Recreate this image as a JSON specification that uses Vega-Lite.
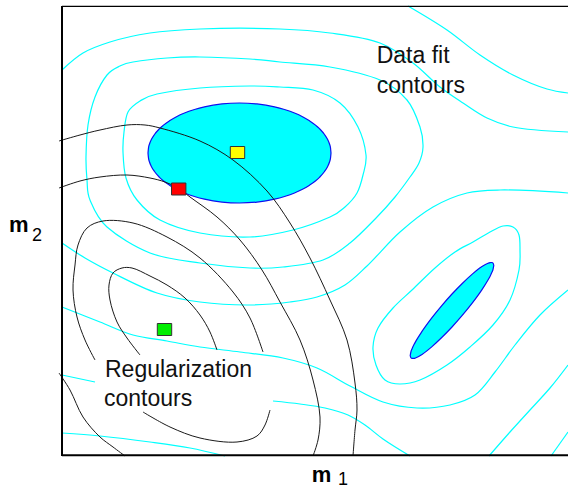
{
  "$schema": "https://vega.github.io/schema/vega-lite/v6.json",
  "width": 506,
  "height": 450,
  "autosize": "none",
  "padding": {"left": 62, "top": 6, "right": 0, "bottom": 35},
  "config": {"view": {"stroke": null}},
  "datasets": {
    "ell1": [
      {"x": 86, "y": 303, "y2": 303}, {"x": 86.5, "y": 308.2, "y2": 297.8}, {"x": 87.5, "y": 312, "y2": 294},
      {"x": 89.5, "y": 316.7, "y2": 289.3}, {"x": 92.5, "y": 321.5, "y2": 284.5}, {"x": 97.5, "y": 327.3, "y2": 278.7},
      {"x": 107.5, "y": 335.2, "y2": 270.8}, {"x": 114.5, "y": 339.3, "y2": 266.7}, {"x": 122.5, "y": 343, "y2": 263},
      {"x": 132.5, "y": 346.5, "y2": 259.5}, {"x": 142.5, "y": 349.2, "y2": 256.8}, {"x": 160, "y": 352.1, "y2": 253.9},
      {"x": 177.5, "y": 353, "y2": 253}, {"x": 195, "y": 352.1, "y2": 253.9}, {"x": 212.5, "y": 349.2, "y2": 256.8},
      {"x": 222.5, "y": 346.5, "y2": 259.5}, {"x": 232.5, "y": 343, "y2": 263}, {"x": 240.5, "y": 339.3, "y2": 266.7},
      {"x": 247.5, "y": 335.2, "y2": 270.8}, {"x": 257.5, "y": 327.3, "y2": 278.7}, {"x": 262.5, "y": 321.5, "y2": 284.5},
      {"x": 265.5, "y": 316.7, "y2": 289.3}, {"x": 267.5, "y": 312, "y2": 294}, {"x": 268.5, "y": 308.2, "y2": 297.8},
      {"x": 269, "y": 303, "y2": 303}
    ],
    "ell2": [
      {"x": 348.2, "y": 100.4, "y2": 100.4}, {"x": 349, "y": 98.1, "y2": 104.5}, {"x": 350, "y": 97.6, "y2": 107.1},
      {"x": 352, "y": 97.6, "y2": 111.4}, {"x": 354, "y": 98.3, "y2": 115.1}, {"x": 360, "y": 101.6, "y2": 124.6},
      {"x": 370, "y": 109.4, "y2": 138.4}, {"x": 380, "y": 118.7, "y2": 150.7}, {"x": 390, "y": 129, "y2": 162},
      {"x": 400, "y": 140.3, "y2": 172.3}, {"x": 410, "y": 152.6, "y2": 181.6}, {"x": 420, "y": 166.4, "y2": 189.4},
      {"x": 426, "y": 176, "y2": 192.7}, {"x": 428, "y": 179.6, "y2": 193.4}, {"x": 430, "y": 183.9, "y2": 193.5},
      {"x": 431, "y": 186.5, "y2": 192.9}, {"x": 431.8, "y": 190.6, "y2": 190.6}
    ],
    "cyanOpen": [
      {"id": "c3", "o": 0, "x": 0, "y": 386}, {"id": "c3", "o": 1, "x": 21, "y": 403}, {"id": "c3", "o": 2, "x": 48, "y": 414},
      {"id": "c3", "o": 3, "x": 88, "y": 423}, {"id": "c3", "o": 4, "x": 138, "y": 427}, {"id": "c3", "o": 5, "x": 218, "y": 427},
      {"id": "c3", "o": 6, "x": 268, "y": 423}, {"id": "c3", "o": 7, "x": 318, "y": 413}, {"id": "c3", "o": 8, "x": 351, "y": 393},
      {"id": "c3", "o": 9, "x": 378, "y": 369}, {"id": "c3", "o": 10, "x": 401, "y": 353}, {"id": "c3", "o": 11, "x": 425, "y": 338},
      {"id": "c3", "o": 12, "x": 451, "y": 329}, {"id": "c3", "o": 13, "x": 506, "y": 324},
      {"id": "c4", "o": 0, "x": 346, "y": 450}, {"id": "c4", "o": 1, "x": 385, "y": 426}, {"id": "c4", "o": 2, "x": 418, "y": 401},
      {"id": "c4", "o": 3, "x": 451, "y": 381}, {"id": "c4", "o": 4, "x": 485, "y": 367}, {"id": "c4", "o": 5, "x": 506, "y": 363},
      {"id": "c5", "o": 0, "x": 0, "y": 213}, {"id": "c5", "o": 1, "x": 23, "y": 198}, {"id": "c5", "o": 2, "x": 51, "y": 183},
      {"id": "c5", "o": 3, "x": 95, "y": 163}, {"id": "c5", "o": 4, "x": 138, "y": 154}, {"id": "c5", "o": 5, "x": 188, "y": 151},
      {"id": "c5", "o": 6, "x": 228, "y": 154}, {"id": "c5", "o": 7, "x": 255, "y": 159}, {"id": "c5", "o": 8, "x": 283, "y": 171},
      {"id": "c5", "o": 9, "x": 305, "y": 190}, {"id": "c5", "o": 10, "x": 338, "y": 224}, {"id": "c5", "o": 11, "x": 371, "y": 249},
      {"id": "c5", "o": 12, "x": 405, "y": 263}, {"id": "c5", "o": 13, "x": 438, "y": 266}, {"id": "c5", "o": 14, "x": 506, "y": 263},
      {"id": "c6", "o": 0, "x": 0, "y": 149}, {"id": "c6", "o": 1, "x": 38, "y": 134}, {"id": "c6", "o": 2, "x": 71, "y": 121},
      {"id": "c6", "o": 3, "x": 105, "y": 115}, {"id": "c6", "o": 4, "x": 138, "y": 109}, {"id": "c6", "o": 5, "x": 178, "y": 104},
      {"id": "c6", "o": 6, "x": 221, "y": 98}, {"id": "c6", "o": 7, "x": 255, "y": 88}, {"id": "c6", "o": 8, "x": 288, "y": 70},
      {"id": "c6", "o": 9, "x": 321, "y": 54}, {"id": "c6", "o": 10, "x": 355, "y": 48}, {"id": "c6", "o": 11, "x": 388, "y": 51},
      {"id": "c6", "o": 12, "x": 413, "y": 61}, {"id": "c6", "o": 13, "x": 433, "y": 84}, {"id": "c6", "o": 14, "x": 453, "y": 111},
      {"id": "c6", "o": 15, "x": 478, "y": 141}, {"id": "c6", "o": 16, "x": 506, "y": 166},
      {"id": "c8", "o": 0, "x": 427, "y": 0}, {"id": "c8", "o": 1, "x": 448, "y": 24}, {"id": "c8", "o": 2, "x": 468, "y": 46},
      {"id": "c8", "o": 3, "x": 488, "y": 68}, {"id": "c8", "o": 4, "x": 506, "y": 91},
      {"id": "c9", "o": 0, "x": 489, "y": 0}, {"id": "c9", "o": 1, "x": 506, "y": 24},
      {"id": "c10a", "o": 0, "x": 0, "y": 81}, {"id": "c10a", "o": 1, "x": 33, "y": 74},
      {"id": "c10b", "o": 0, "x": 211, "y": 55}, {"id": "c10b", "o": 1, "x": 238, "y": 52}, {"id": "c10b", "o": 2, "x": 263, "y": 48},
      {"id": "c10b", "o": 3, "x": 286, "y": 41}, {"id": "c10b", "o": 4, "x": 303, "y": 31}, {"id": "c10b", "o": 5, "x": 321, "y": 17},
      {"id": "c10b", "o": 6, "x": 348, "y": 0},
      {"id": "c11", "o": 0, "x": 0, "y": 23}, {"id": "c11", "o": 1, "x": 38, "y": 20}, {"id": "c11", "o": 2, "x": 88, "y": 14},
      {"id": "c11", "o": 3, "x": 128, "y": 8}, {"id": "c11", "o": 4, "x": 163, "y": 0}
    ],
    "cyanClosed": [
      {"id": "c1", "o": 0, "x": 61, "y": 304}, {"id": "c1", "o": 1, "x": 62, "y": 324}, {"id": "c1", "o": 2, "x": 66, "y": 344},
      {"id": "c1", "o": 3, "x": 78, "y": 355}, {"id": "c1", "o": 4, "x": 95, "y": 362}, {"id": "c1", "o": 5, "x": 138, "y": 368},
      {"id": "c1", "o": 6, "x": 188, "y": 370}, {"id": "c1", "o": 7, "x": 218, "y": 369}, {"id": "c1", "o": 8, "x": 251, "y": 366},
      {"id": "c1", "o": 9, "x": 278, "y": 353}, {"id": "c1", "o": 10, "x": 296, "y": 329}, {"id": "c1", "o": 11, "x": 304, "y": 301},
      {"id": "c1", "o": 12, "x": 301, "y": 281}, {"id": "c1", "o": 13, "x": 295, "y": 263}, {"id": "c1", "o": 14, "x": 283, "y": 249},
      {"id": "c1", "o": 15, "x": 268, "y": 239}, {"id": "c1", "o": 16, "x": 231, "y": 226}, {"id": "c1", "o": 17, "x": 188, "y": 219},
      {"id": "c1", "o": 18, "x": 138, "y": 223}, {"id": "c1", "o": 19, "x": 98, "y": 236}, {"id": "c1", "o": 20, "x": 75, "y": 256},
      {"id": "c1", "o": 21, "x": 64, "y": 278},
      {"id": "c2", "o": 0, "x": 24, "y": 299}, {"id": "c2", "o": 1, "x": 26, "y": 331}, {"id": "c2", "o": 2, "x": 33, "y": 359},
      {"id": "c2", "o": 3, "x": 45, "y": 381}, {"id": "c2", "o": 4, "x": 58, "y": 390}, {"id": "c2", "o": 5, "x": 71, "y": 394},
      {"id": "c2", "o": 6, "x": 105, "y": 398}, {"id": "c2", "o": 7, "x": 138, "y": 399}, {"id": "c2", "o": 8, "x": 188, "y": 397},
      {"id": "c2", "o": 9, "x": 218, "y": 394}, {"id": "c2", "o": 10, "x": 268, "y": 389}, {"id": "c2", "o": 11, "x": 318, "y": 376},
      {"id": "c2", "o": 12, "x": 345, "y": 356}, {"id": "c2", "o": 13, "x": 358, "y": 329}, {"id": "c2", "o": 14, "x": 361, "y": 309},
      {"id": "c2", "o": 15, "x": 357, "y": 293}, {"id": "c2", "o": 16, "x": 348, "y": 279}, {"id": "c2", "o": 17, "x": 333, "y": 259},
      {"id": "c2", "o": 18, "x": 315, "y": 239}, {"id": "c2", "o": 19, "x": 288, "y": 213}, {"id": "c2", "o": 20, "x": 261, "y": 196},
      {"id": "c2", "o": 21, "x": 221, "y": 189}, {"id": "c2", "o": 22, "x": 188, "y": 188}, {"id": "c2", "o": 23, "x": 138, "y": 193},
      {"id": "c2", "o": 24, "x": 88, "y": 203}, {"id": "c2", "o": 25, "x": 45, "y": 229}, {"id": "c2", "o": 26, "x": 28, "y": 256},
      {"id": "c2", "o": 27, "x": 25, "y": 276},
      {"id": "c7", "o": 0, "x": 311, "y": 109}, {"id": "c7", "o": 1, "x": 316, "y": 128}, {"id": "c7", "o": 2, "x": 331, "y": 148},
      {"id": "c7", "o": 3, "x": 350, "y": 166}, {"id": "c7", "o": 4, "x": 373, "y": 188}, {"id": "c7", "o": 5, "x": 393, "y": 204},
      {"id": "c7", "o": 6, "x": 411, "y": 214}, {"id": "c7", "o": 7, "x": 428, "y": 224}, {"id": "c7", "o": 8, "x": 441, "y": 230},
      {"id": "c7", "o": 9, "x": 451, "y": 229}, {"id": "c7", "o": 10, "x": 457, "y": 221}, {"id": "c7", "o": 11, "x": 458, "y": 206},
      {"id": "c7", "o": 12, "x": 457, "y": 186}, {"id": "c7", "o": 13, "x": 448, "y": 156}, {"id": "c7", "o": 14, "x": 431, "y": 131},
      {"id": "c7", "o": 15, "x": 408, "y": 109}, {"id": "c7", "o": 16, "x": 385, "y": 91}, {"id": "c7", "o": 17, "x": 358, "y": 76},
      {"id": "c7", "o": 18, "x": 338, "y": 72}, {"id": "c7", "o": 19, "x": 323, "y": 76}, {"id": "c7", "o": 20, "x": 314, "y": 91}
    ],
    "black": [
      {"id": "k1", "o": 0, "x": 78, "y": 101}, {"id": "k1", "o": 1, "x": 65, "y": 118}, {"id": "k1", "o": 2, "x": 55, "y": 134},
      {"id": "k1", "o": 3, "x": 48, "y": 156}, {"id": "k1", "o": 4, "x": 47, "y": 171}, {"id": "k1", "o": 5, "x": 51, "y": 183},
      {"id": "k1", "o": 6, "x": 60, "y": 188}, {"id": "k1", "o": 7, "x": 70, "y": 188}, {"id": "k1", "o": 8, "x": 88, "y": 180},
      {"id": "k1", "o": 9, "x": 105, "y": 171}, {"id": "k1", "o": 10, "x": 123, "y": 158}, {"id": "k1", "o": 11, "x": 138, "y": 141},
      {"id": "k1", "o": 12, "x": 148, "y": 124}, {"id": "k1", "o": 13, "x": 155, "y": 106},
      {"id": "k2a", "o": 0, "x": 33, "y": 96}, {"id": "k2a", "o": 1, "x": 23, "y": 116}, {"id": "k2a", "o": 2, "x": 15, "y": 139},
      {"id": "k2a", "o": 3, "x": 11, "y": 166}, {"id": "k2a", "o": 4, "x": 13, "y": 191}, {"id": "k2a", "o": 5, "x": 16, "y": 211},
      {"id": "k2a", "o": 6, "x": 25, "y": 228}, {"id": "k2a", "o": 7, "x": 41, "y": 235}, {"id": "k2a", "o": 8, "x": 71, "y": 233},
      {"id": "k2a", "o": 9, "x": 105, "y": 219}, {"id": "k2a", "o": 10, "x": 138, "y": 198}, {"id": "k2a", "o": 11, "x": 171, "y": 164},
      {"id": "k2a", "o": 12, "x": 188, "y": 138}, {"id": "k2a", "o": 13, "x": 201, "y": 104},
      {"id": "k2b", "o": 0, "x": 81, "y": 44}, {"id": "k2b", "o": 1, "x": 108, "y": 29}, {"id": "k2b", "o": 2, "x": 138, "y": 18},
      {"id": "k2b", "o": 3, "x": 175, "y": 14}, {"id": "k2b", "o": 4, "x": 195, "y": 20}, {"id": "k2b", "o": 5, "x": 203, "y": 31},
      {"id": "k2b", "o": 6, "x": 208, "y": 46},
      {"id": "k3", "o": 0, "x": -3, "y": 83}, {"id": "k3", "o": 1, "x": 8, "y": 66}, {"id": "k3", "o": 2, "x": 21, "y": 39},
      {"id": "k3", "o": 3, "x": 38, "y": 19}, {"id": "k3", "o": 4, "x": 51, "y": 9}, {"id": "k3", "o": 5, "x": 63, "y": 0},
      {"id": "k4", "o": 0, "x": -3, "y": 268}, {"id": "k4", "o": 1, "x": 18, "y": 275}, {"id": "k4", "o": 2, "x": 38, "y": 279},
      {"id": "k4", "o": 3, "x": 65, "y": 281}, {"id": "k4", "o": 4, "x": 88, "y": 278}, {"id": "k4", "o": 5, "x": 103, "y": 274},
      {"id": "k4", "o": 6, "x": 116, "y": 268}, {"id": "k4", "o": 7, "x": 128, "y": 259}, {"id": "k4", "o": 8, "x": 155, "y": 239},
      {"id": "k4", "o": 9, "x": 178, "y": 216}, {"id": "k4", "o": 10, "x": 200, "y": 186}, {"id": "k4", "o": 11, "x": 218, "y": 154},
      {"id": "k4", "o": 12, "x": 238, "y": 116}, {"id": "k4", "o": 13, "x": 251, "y": 76}, {"id": "k4", "o": 14, "x": 258, "y": 39},
      {"id": "k4", "o": 15, "x": 256, "y": 16}, {"id": "k4", "o": 16, "x": 251, "y": 0},
      {"id": "k5", "o": 0, "x": -3, "y": 315}, {"id": "k5", "o": 1, "x": 18, "y": 321}, {"id": "k5", "o": 2, "x": 38, "y": 326},
      {"id": "k5", "o": 3, "x": 65, "y": 331}, {"id": "k5", "o": 4, "x": 83, "y": 331}, {"id": "k5", "o": 5, "x": 98, "y": 328},
      {"id": "k5", "o": 6, "x": 138, "y": 315}, {"id": "k5", "o": 7, "x": 171, "y": 296}, {"id": "k5", "o": 8, "x": 205, "y": 265},
      {"id": "k5", "o": 9, "x": 228, "y": 233}, {"id": "k5", "o": 10, "x": 248, "y": 198}, {"id": "k5", "o": 11, "x": 268, "y": 156},
      {"id": "k5", "o": 12, "x": 285, "y": 116}, {"id": "k5", "o": 13, "x": 293, "y": 73}, {"id": "k5", "o": 14, "x": 295, "y": 46},
      {"id": "k5", "o": 15, "x": 293, "y": 26}, {"id": "k5", "o": 16, "x": 291, "y": 0}
    ],
    "points": [
      {"pt": "data fit minimum", "x": 175.5, "y": 303.5},
      {"pt": "regularized solution", "x": 116.7, "y": 267},
      {"pt": "regularization minimum", "x": 102.5, "y": 126.5}
    ],
    "labels": [
      {"label": "Data fit", "x": 314.7, "y": 393},
      {"label": "contours", "x": 314.7, "y": 363},
      {"label": "Regularization", "x": 43, "y": 79},
      {"label": "contours", "x": 42, "y": 50}
    ],
    "axisM": [
      {"label": "m", "x": -53, "y": 224},
      {"label": "m", "x": 249.7, "y": -26}
    ],
    "axisSub": [
      {"label": "2", "x": -30, "y": 215.3},
      {"label": "1", "x": 276, "y": -29}
    ],
    "frame": [{"edge": "frame"}]
  },
  "layer": [
    {
      "data": {"name": "ell1"},
      "mark": {"type": "area", "fill": "#00ffff", "stroke": "#1010ee", "strokeWidth": 1.2, "interpolate": "monotone", "fillOpacity": 1},
      "encoding": {
        "x": {"field": "x", "type": "quantitative", "scale": {"domain": [0, 506], "nice": false, "zero": false}, "axis": null},
        "y": {"field": "y", "type": "quantitative", "scale": {"domain": [0, 450], "nice": false, "zero": false}, "axis": null},
        "y2": {"field": "y2"}
      }
    },
    {
      "data": {"name": "ell2"},
      "mark": {"type": "area", "fill": "#00ffff", "stroke": "#1010ee", "strokeWidth": 1.2, "interpolate": "monotone", "fillOpacity": 1},
      "encoding": {
        "x": {"field": "x", "type": "quantitative"},
        "y": {"field": "y", "type": "quantitative"},
        "y2": {"field": "y2"}
      }
    },
    {
      "data": {"name": "cyanOpen"},
      "mark": {"type": "line", "stroke": "#00ffff", "strokeWidth": 1.2, "interpolate": "catmull-rom"},
      "encoding": {
        "x": {"field": "x", "type": "quantitative"},
        "y": {"field": "y", "type": "quantitative"},
        "detail": {"field": "id"},
        "order": {"field": "o"}
      }
    },
    {
      "data": {"name": "cyanClosed"},
      "mark": {"type": "line", "stroke": "#00ffff", "strokeWidth": 1.2, "interpolate": "cardinal-closed"},
      "encoding": {
        "x": {"field": "x", "type": "quantitative"},
        "y": {"field": "y", "type": "quantitative"},
        "detail": {"field": "id"},
        "order": {"field": "o"}
      }
    },
    {
      "data": {"name": "black"},
      "mark": {"type": "line", "stroke": "#1a1a1a", "strokeWidth": 1, "interpolate": "catmull-rom"},
      "encoding": {
        "x": {"field": "x", "type": "quantitative"},
        "y": {"field": "y", "type": "quantitative"},
        "detail": {"field": "id"},
        "order": {"field": "o"}
      }
    },
    {
      "data": {"name": "points"},
      "mark": {"type": "point", "shape": "M-1.2,-1L1.2,-1L1.2,1L-1.2,1Z", "size": 144, "filled": true, "stroke": "#333333", "strokeWidth": 1, "opacity": 1},
      "encoding": {
        "x": {"field": "x", "type": "quantitative"},
        "y": {"field": "y", "type": "quantitative"},
        "fill": {"field": "pt", "type": "nominal", "legend": null,
          "scale": {"domain": ["data fit minimum", "regularized solution", "regularization minimum"], "range": ["#ffff00", "#ff0000", "#00ee00"]}}
      }
    },
    {
      "data": {"name": "labels"},
      "mark": {"type": "text", "align": "left", "baseline": "alphabetic", "font": "Liberation Sans", "fontSize": 23, "color": "#111111"},
      "encoding": {
        "x": {"field": "x", "type": "quantitative"},
        "y": {"field": "y", "type": "quantitative"},
        "text": {"field": "label"}
      }
    },
    {
      "data": {"name": "axisM"},
      "mark": {"type": "text", "align": "left", "baseline": "alphabetic", "font": "Liberation Sans", "fontSize": 22, "fontWeight": "bold", "color": "#000000"},
      "encoding": {
        "x": {"field": "x", "type": "quantitative"},
        "y": {"field": "y", "type": "quantitative"},
        "text": {"field": "label"}
      }
    },
    {
      "data": {"name": "axisSub"},
      "mark": {"type": "text", "align": "left", "baseline": "alphabetic", "font": "Liberation Sans", "fontSize": 18, "color": "#000000"},
      "encoding": {
        "x": {"field": "x", "type": "quantitative"},
        "y": {"field": "y", "type": "quantitative"},
        "text": {"field": "label"}
      }
    },
    {
      "data": {"name": "frame"},
      "mark": {"type": "rule", "color": "#000000", "strokeWidth": 2},
      "encoding": {"x": {"datum": 0}}
    },
    {
      "data": {"name": "frame"},
      "mark": {"type": "rule", "color": "#000000", "strokeWidth": 2},
      "encoding": {"y": {"datum": 0.7}}
    },
    {
      "data": {"name": "frame"},
      "mark": {"type": "rule", "color": "#000000", "strokeWidth": 1.3},
      "encoding": {"y": {"datum": 449.7}}
    }
  ]
}
